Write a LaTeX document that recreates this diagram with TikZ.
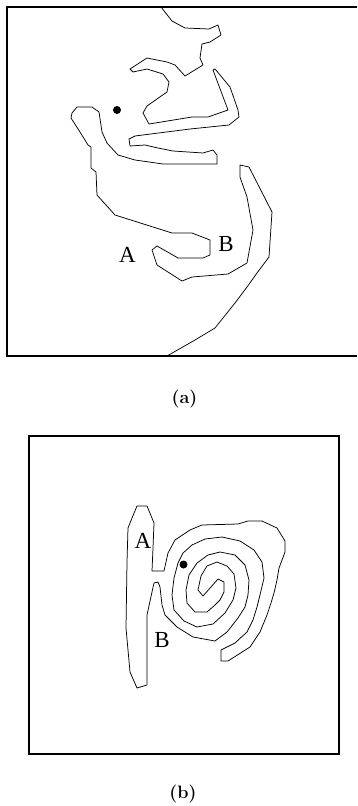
\documentclass[tikz,border=0pt]{standalone}
\usepackage{fontspec}
\newfontfamily\lblfont{Liberation Serif}
\begin{document}
\begin{tikzpicture}[x=1pt,y=-1pt,
  frame/.style  ={draw, line width=1.4pt},
  contour/.style={draw, line width=0.75pt, line join=round},
  letter/.style ={font=\lblfont\fontsize{23}{23}\selectfont, inner sep=0pt},
  caption/.style={font=\fontsize{18}{18}\selectfont\bfseries, inner sep=0pt},
  spot/.style   ={fill, circle, minimum size=8pt, inner sep=0pt}]
\useasboundingbox (0,0) rectangle (357,806);

%% Panel (a): frame open on the right
\draw[frame] (357,7) -- (7,7) -- (7,356) -- (357,356);

%% Panel (a): contour from top edge to bottom edge
\draw[contour] (161,7) -- (172,21) -- (185,28) -- (209,29) -- (218,25) -- (221,35)
  -- (210,42) -- (202,44) -- (200,58) -- (203,65) -- (185,76) -- (175,65) -- (167,62)
  -- (147,58) -- (130,69) -- (133,72) -- (147,69) -- (163,74) -- (169,82) -- (167,92)
  -- (147,106) -- (143,113) -- (149,124) -- (192,117) -- (208,117) -- (228,110)
  -- (213,70) -- (215,69) -- (230,87) -- (238,110) -- (239,117) -- (229,125)
  -- (190,129) -- (135,136) -- (129,139) -- (130,146) -- (145,145) -- (158,148)
  -- (173,151) -- (203,153) -- (213,150) -- (217,155) -- (217,164) -- (180,164)
  -- (163,164) -- (135,160) -- (118,155) -- (107,143) -- (102,132) -- (99,112)
  -- (92,107) -- (77,107) -- (72,113) -- (71,118) -- (80,132) -- (88,145) -- (91,147)
  -- (91,168) -- (96,172) -- (97,195) -- (115,215) -- (172,233) -- (192,233)
  -- (210,240) -- (210,255) -- (203,258) -- (178,258) -- (157,246) -- (152,250)
  -- (157,265) -- (182,281) -- (192,277) -- (228,274) -- (247,263) -- (253,230)
  -- (247,197) -- (240,177) -- (240,165) -- (249,167) -- (272,212) -- (269,257)
  -- (257,273) -- (247,287) -- (235,303) -- (215,328) -- (195,340) -- (167,356);

\node[spot]   (dota) at (117,110) {};
\node[letter] (Aa)   at (127.5,255) {A};
\node[letter] (Ba)   at (226,243.5) {B};
\node[caption] (capa) at (184.5,399.5) {(a)};

%% Panel (b): frame
\draw[frame] (29,436) rectangle (339,754);

%% Panel (b): lobe and spiral band
\draw[contour] (137,506) -- (147,506) -- (154,523) -- (153,548) -- (152,571)
  -- (164,571) -- (168,553) -- (175,540) -- (190,530) -- (202,525) -- (238,524)
  -- (248,521) -- (262,521) -- (277,528) -- (285,541) -- (285,552) -- (279,568)
  -- (277,580) -- (274,593) -- (271,603) -- (267,615) -- (260,632) -- (250,647)
  -- (228,661) -- (221,661) -- (221,650)
  -- (235,643) -- (247,632) -- (253,620) -- (257,607) -- (260,595) -- (264,578)
  -- (262,562) -- (254,550) -- (240,541) -- (222,537) -- (205,539) -- (192,545)
  -- (183,553) -- (178,563) -- (174,578) -- (172,595) -- (174,610) -- (184,621)
  -- (197,627) -- (213,624) -- (225,613) -- (233,600) -- (236,588) -- (234,574)
  -- (227,566) -- (217,562) -- (207,566) -- (201,576) -- (198,590) -- (203,596)
  -- (211,587) -- (218,579) -- (224,582)
  -- (224,592) -- (220,600) -- (215,605) -- (207,612) -- (195,612) -- (187,603)
  -- (186,590) -- (189,575) -- (197,563) -- (208,555) -- (220,552) -- (235,555)
  -- (245,565) -- (249,580) -- (248,595) -- (245,607) -- (238,618) -- (227,632)
  -- (215,641) -- (193,637) -- (177,627) -- (165,615) -- (162,605) -- (160,587)
  -- (158,582) -- (154,583) -- (152,592) -- (147,615) -- (147,638) -- (147,685)
  -- (137,688) -- (130,672) -- (126,628) -- (127,562) -- (128,528) -- (132,518)
  -- cycle;

\node[spot]   (dotb) at (183.5,564.5) {};
\node[letter] (Ab)   at (143,541) {A};
\node[letter] (Bb)   at (162,640) {B};
\node[caption] (capb) at (183,793.5) {(b)};
\end{tikzpicture}
\end{document}
